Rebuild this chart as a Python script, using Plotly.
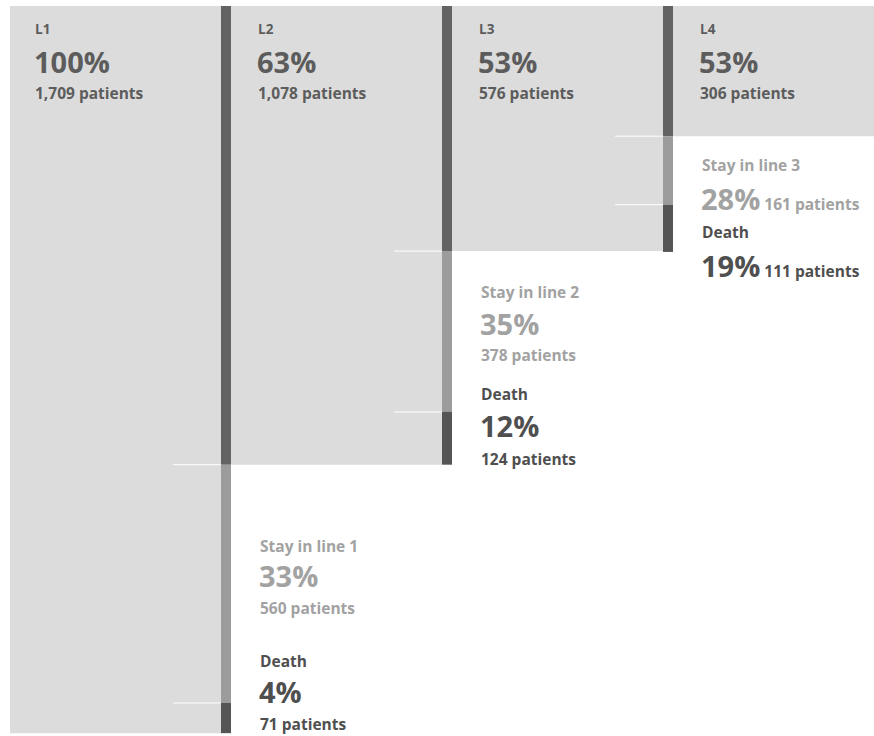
import plotly.graph_objects as go

# Patient flow through successive lines of therapy
lines = ["L1", "L2", "L3", "L4"]
line_pct = [100, 63, 53, 53]
line_patients = [1709, 1078, 576, 306]

stay_labels = ["Stay in line 1", "Stay in line 2", "Stay in line 3"]
stay_pct = [33, 35, 28]
stay_patients = [560, 378, 161]

death_pct = [4, 12, 19]
death_patients = [71, 124, 111]

# Layout constants (pixels)
W, H = 874, 736
COL_PX = 221          # column pitch
X0_PX = 10            # pixel position of x = 0
BAR_PX = 10           # width of the transfer bar
TOP_PX = 6            # pixel position of y = 0
PX_PER_PATIENT = 0.4255
TICK_PX = 48

bw = BAR_PX / COL_PX
tick = TICK_PX / COL_PX

BLOCK = "#dcdcdc"
MOVE = "#636363"
STAY = "#9c9c9c"
DEATH = "#555555"
TXT_HEAD = "#5c5c5c"
TXT_STAY = "#a2a2a2"
TXT_DEATH = "#4f4f4f"
FONT = "Open Sans"

SMALL = 15.5
BIG = 29
LABEL = 13.5

fig = go.Figure()

# Grey blocks: patients entering each line
n = len(lines)
fig.add_trace(go.Bar(
    x=[i + (1 - bw) / 2 if i < n - 1 else i + 0.6 for i in range(n)],
    y=line_patients,
    base=[0] * n,
    width=[1 - bw if i < n - 1 else 1.2 for i in range(n)],
    marker=dict(color=BLOCK, line=dict(width=0)),
    hoverinfo="skip",
))

# Transfer bar: moved on to next line / stayed / died
bx = [i + 1 - bw / 2 for i in range(n - 1)]
moved = line_patients[1:]
fig.add_trace(go.Bar(x=bx, y=moved, base=[0] * (n - 1), width=bw,
                     marker=dict(color=MOVE, line=dict(width=0)), hoverinfo="skip"))
fig.add_trace(go.Bar(x=bx, y=stay_patients, base=moved, width=bw,
                     marker=dict(color=STAY, line=dict(width=0)), hoverinfo="skip"))
fig.add_trace(go.Bar(x=bx, y=death_patients,
                     base=[m + s for m, s in zip(moved, stay_patients)], width=bw,
                     marker=dict(color=DEATH, line=dict(width=0)), hoverinfo="skip"))

# Thin white ticks at segment boundaries
tx, ty = [], []
for i in range(n - 1):
    for yv in (moved[i], moved[i] + stay_patients[i]):
        tx += [i + 1 - bw - tick, i + 1 - bw, None]
        ty += [yv, yv, None]
fig.add_trace(go.Scatter(x=tx, y=ty, mode="lines",
                         line=dict(color="white", width=1), hoverinfo="skip"))


def note(x, y, text, size, color, xshift, yshift):
    fig.add_annotation(x=x, y=y, xref="x", yref="y", text=f"<b>{text}</b>",
                       showarrow=False, xanchor="left", yanchor="middle",
                       xshift=xshift, yshift=-yshift,
                       font=dict(family=FONT, size=size, color=color))


# Column headers
for i in range(n):
    dx = 23 if i == 0 else 25
    note(i, 0, lines[i], LABEL, TXT_HEAD, dx, 23)
    note(i, 0, f"{line_pct[i]}%", BIG, TXT_HEAD, dx - 1, 55)
    note(i, 0, f"{line_patients[i]:,} patients", SMALL, TXT_HEAD, dx, 87)

# Outcome labels, stacked (first two columns) or inline (last)
stack_offsets = [
    [81, 111, 143, 196, 227, 259],
    [41, 72, 104, 143, 174, 208],
]
for i in range(2):
    o = stack_offsets[i]
    yb = moved[i]
    note(i + 1, yb, stay_labels[i], SMALL, TXT_STAY, 27, o[0])
    note(i + 1, yb, f"{stay_pct[i]}%", BIG, TXT_STAY, 26, o[1])
    note(i + 1, yb, f"{stay_patients[i]} patients", SMALL, TXT_STAY, 27, o[2])
    note(i + 1, yb, "Death", SMALL, TXT_DEATH, 27, o[3])
    note(i + 1, yb, f"{death_pct[i]}%", BIG, TXT_DEATH, 26, o[4])
    note(i + 1, yb, f"{death_patients[i]} patients", SMALL, TXT_DEATH, 27, o[5])

i = 2
yb = moved[i]
note(i + 1, yb, stay_labels[i], SMALL, TXT_STAY, 27, 29)
note(i + 1, yb, f"<span style='font-size:{BIG}px'>{stay_pct[i]}%</span> "
     f"{stay_patients[i]} patients", SMALL, TXT_STAY, 26, 62)
note(i + 1, yb, "Death", SMALL, TXT_DEATH, 27, 96)
note(i + 1, yb, f"<span style='font-size:{BIG}px'>{death_pct[i]}%</span> "
     f"{death_patients[i]} patients", SMALL, TXT_DEATH, 26, 129)

fig.update_layout(
    width=W, height=H,
    margin=dict(l=0, r=0, t=0, b=0),
    paper_bgcolor="white", plot_bgcolor="white",
    barmode="overlay", showlegend=False,
    xaxis=dict(range=[-X0_PX / COL_PX, (W - X0_PX) / COL_PX],
               visible=False, fixedrange=True),
    yaxis=dict(range=[(H - TOP_PX) / PX_PER_PATIENT, -TOP_PX / PX_PER_PATIENT],
               visible=False, fixedrange=True),
)

fig.write_html("out.html", config={"displayModeBar": False})
